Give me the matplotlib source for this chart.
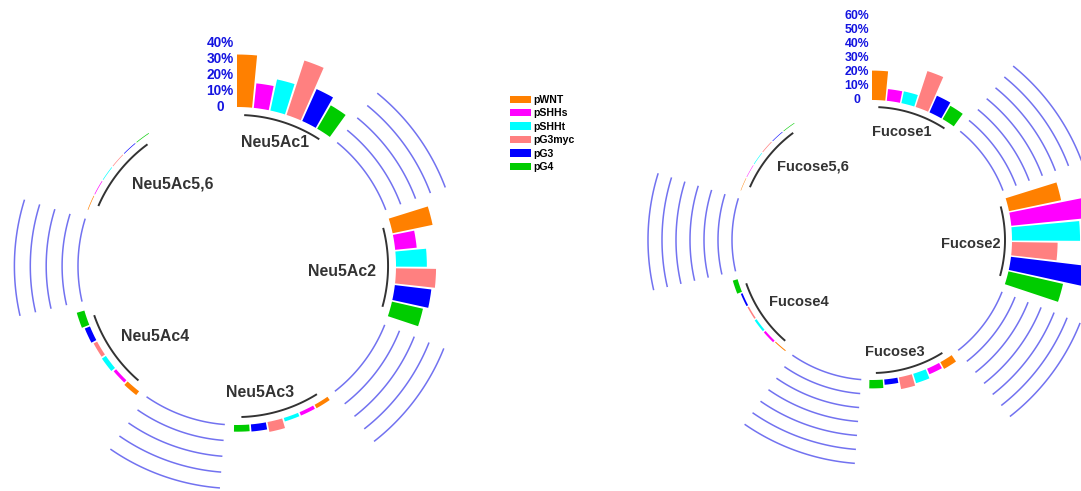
import numpy as np
import matplotlib
matplotlib.use("Agg")
import matplotlib.pyplot as plt
from matplotlib.patches import Patch

plt.rcParams['font.family'] = ['Liberation Sans', 'DejaVu Sans']

# ---- data -------------------------------------------------------------
samples = ["pWNT", "pSHHs", "pSHHt", "pG3myc", "pG3", "pG4"]
sample_colors = ["#FF8000", "#FF00FF", "#00FFFF", "#FF8080", "#0000FF", "#00CC00"]

neu5ac_groups = ["Neu5Ac1", "Neu5Ac2", "Neu5Ac3", "Neu5Ac4", "Neu5Ac5,6"]
neu5ac1 = [33.0, 15.5, 20.0, 36.0, 22.0, 17.0]
neu5ac2 = [25.7, 13.6, 19.4, 25.2, 23.1, 20.0]
neu5ac3 = [2.5, 2.3, 2.3, 6.3, 4.5, 4.2]
neu5ac4 = [3.0, 2.0, 3.0, 2.5, 3.5, 5.0]
neu5ac56 = [0.4, 0.4, 0.4, 0.4, 0.4, 0.4]
neu5ac_ticks = [0, 10, 20, 30, 40]

fucose_groups = ["Fucose1", "Fucose2", "Fucose3", "Fucose4", "Fucose5,6"]
fucose1 = [21.0, 8.4, 8.6, 27.0, 13.0, 11.0]
fucose2 = [38.0, 57.0, 48.6, 32.6, 55.0, 40.0]
fucose3 = [5.5, 4.3, 7.0, 8.5, 3.8, 6.0]
fucose4 = [0.7, 1.6, 1.6, 1.1, 1.3, 3.6]
fucose56 = [0.3, 0.3, 0.4, 0.5, 0.4, 0.4]
fucose_ticks = [0, 10, 20, 30, 40, 50, 60]

# ---- layout -----------------------------------------------------------
W, H = 1081, 491
N_BARS = len(samples)
N_EMPTY = 6
N_SLOTS = (N_BARS + N_EMPTY) * len(neu5ac_groups)
X_MIN = 0.55
X_SPAN = N_SLOTS - X_MIN


def theta(pos):
    return (np.asarray(pos, dtype=float) - X_MIN) / X_SPAN * 2 * np.pi


def make_polar(fig, cx, cy, px_per_unit, rmax):
    R = (rmax + 100) * px_per_unit
    ax = fig.add_axes([(cx - R) / W, (H - cy - R) / H, 2 * R / W, 2 * R / H],
                      projection='polar')
    ax.set_theta_zero_location('N')
    ax.set_theta_direction(-1)
    ax.set_ylim(-100, rmax)
    ax.set_axis_off()
    return ax


def draw_panel(ax, groups, values, ticks, label_offsets, label_size, tick_size,
               tick_offset):
    slot = 2 * np.pi / X_SPAN
    for g, (name, vals) in enumerate(zip(groups, values)):
        start = g * (N_BARS + N_EMPTY) + 1
        ids = np.arange(start, start + N_BARS)
        ax.bar(theta(ids), vals, width=0.9 * slot, bottom=0,
               color=sample_colors, linewidth=0)
        # group underline
        arc = np.linspace(theta(ids[0]), theta(ids[-1]), 80)
        ax.plot(arc, np.full_like(arc, -5), color='black', alpha=0.8, lw=1.4,
                solid_capstyle='butt')
        # group title
        ox, oy = label_offsets[g]
        ax.annotate(name, xy=(theta(ids.mean()), -18), xytext=(ox, oy),
                    textcoords='offset pixels', ha='center', va='center',
                    fontsize=label_size, fontweight='bold', color='#333333')
        # reference arcs in the gap before each group (not before the first)
        if g > 0:
            prev_end = start - N_EMPTY - 1
            garc = np.linspace(theta(prev_end + 1), theta(start - 1), 80)
            for t in ticks:
                ax.plot(garc, np.full_like(garc, t), color='#7272f0', lw=1.1,
                        solid_capstyle='butt')
    # scale labels at the top
    for t in ticks:
        ax.annotate(f"{t}%" if t else "0", xy=(theta(N_SLOTS), t),
                    xytext=(tick_offset, 0), textcoords='offset pixels',
                    ha='center', va='center', fontsize=tick_size,
                    fontweight='bold', color='#1414e0')


fig = plt.figure(figsize=(W / 100, H / 100), dpi=100)
fig.patch.set_facecolor('white')

ax_l = make_polar(fig, 237, 266, 1.59, 45)
draw_panel(ax_l, neu5ac_groups, [neu5ac1, neu5ac2, neu5ac3, neu5ac4, neu5ac56],
           neu5ac_ticks,
           label_offsets=[(-2, -1), (-25, -4), (-15, -2), (26, 3), (38, 1)],
           label_size=11.4, tick_size=9.8, tick_offset=-17)

ax_r = make_polar(fig, 872, 240, 1.4, 65)
draw_panel(ax_r, fucose_groups, [fucose1, fucose2, fucose3, fucose4, fucose56],
           fucose_ticks,
           label_offsets=[(-5, -1), (-16, -3), (-10, -2), (22, 2), (31, 2)],
           label_size=10.5, tick_size=8.8, tick_offset=-15)

handles = [Patch(facecolor=c, edgecolor='none') for c in sample_colors]
fig.legend(handles, samples, loc='upper left',
           bbox_to_anchor=(510 / W, 1 - 95 / H), frameon=False,
           prop=dict(weight='bold', size=7.6), handlelength=2.0,
           handleheight=0.7, labelspacing=0.32, handletextpad=0.2,
           borderpad=0, borderaxespad=0)

fig.savefig('out.png', dpi=100, facecolor='white')
